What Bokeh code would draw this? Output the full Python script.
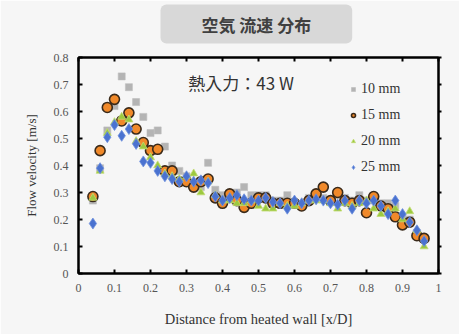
from bokeh.plotting import figure
from bokeh.models import (LinearAxis, FixedTicker, CustomJSTickFormatter, Label,
                          Legend, LegendItem, ColumnDataSource, Range1d,
                          CustomLabelingPolicy)
from bokeh.embed import file_html
from bokeh.resources import INLINE

# ---------------- data ----------------
x_pos = [0.04, 0.06, 0.08, 0.10, 0.12, 0.14, 0.16, 0.18, 0.20, 0.22, 0.24, 0.26,
         0.28, 0.30, 0.32, 0.34, 0.36, 0.38, 0.40, 0.42, 0.44, 0.46, 0.48, 0.50,
         0.52, 0.54, 0.56, 0.58, 0.60, 0.62, 0.64, 0.66, 0.68, 0.70, 0.72, 0.74,
         0.76, 0.78, 0.80, 0.82, 0.84, 0.86, 0.88, 0.90, 0.92, 0.94, 0.96]

v_10mm = [0.27, 0.39, 0.53, 0.62, 0.73, 0.69, 0.635, 0.58, 0.52, 0.53, 0.47, 0.40,
          0.38, 0.36, 0.33, 0.32, 0.41, 0.31, 0.29, 0.28, 0.30, 0.32, 0.29, 0.29,
          0.29, 0.27, 0.27, 0.29, 0.26, 0.25, 0.28, 0.29, 0.28, 0.27, 0.29, 0.28,
          0.27, 0.29, 0.27, 0.27, 0.26, 0.26, 0.25, 0.21, 0.20, 0.15, 0.13]

v_15mm = [0.285, 0.455, 0.615, 0.645, 0.565, 0.595, 0.535, 0.485, 0.455, 0.46, 0.38, 0.38,
          0.34, 0.34, 0.32, 0.34, 0.35, 0.28, 0.26, 0.295, 0.27, 0.245, 0.26, 0.28,
          0.28, 0.26, 0.26, 0.26, 0.26, 0.25, 0.27, 0.295, 0.32, 0.27, 0.30, 0.27,
          0.26, 0.27, 0.225, 0.285, 0.25, 0.24, 0.21, 0.18, 0.19, 0.14, 0.13]

v_20mm = [0.28, 0.38, 0.52, 0.56, 0.58, 0.57, 0.49, 0.47, 0.43, 0.40, 0.37, 0.36,
          0.35, 0.36, 0.37, 0.30, 0.34, 0.29, 0.27, 0.27, 0.26, 0.26, 0.27, 0.25,
          0.24, 0.24, 0.26, 0.25, 0.25, 0.26, 0.27, 0.27, 0.27, 0.26, 0.24, 0.26,
          0.25, 0.26, 0.27, 0.24, 0.22, 0.23, 0.24, 0.20, 0.23, 0.16, 0.10]

v_25mm = [0.185, 0.39, 0.505, 0.55, 0.51, 0.535, 0.48, 0.415, 0.41, 0.38, 0.36, 0.35,
          0.34, 0.36, 0.34, 0.345, 0.335, 0.285, 0.27, 0.28, 0.29, 0.275, 0.27, 0.27,
          0.28, 0.265, 0.26, 0.24, 0.27, 0.26, 0.27, 0.275, 0.27, 0.26, 0.255, 0.27,
          0.24, 0.27, 0.26, 0.27, 0.25, 0.22, 0.27, 0.22, 0.19, 0.16, 0.12]

series_names = ["10 mm", "15 mm", "20 mm", "25 mm"]
x_ticks = [0, 0.1, 0.2, 0.3, 0.4, 0.5, 0.6, 0.7, 0.8, 0.9, 1.0]
y_ticks = [0, 0.1, 0.2, 0.3, 0.4, 0.5, 0.6, 0.7, 0.8]

title_text = "空気 流速 分布"
note_text = "熱入力：43 W"
x_label = "Distance from heated wall [x/D]"
y_label = "Flow velocity [m/s]"

# ---------------- figure ----------------
BG = "#f6f6f6"
SERIF = "Liberation Serif"

p = figure(width=459, height=334, output_backend="svg", toolbar_location=None,
           x_range=Range1d(0, 1), y_range=Range1d(0, 0.8),
           min_border_left=78, min_border_right=15, min_border_top=57, min_border_bottom=61,
           background_fill_color=BG, border_fill_color=BG)
p.xaxis.visible = False
p.yaxis.visible = False
p.grid.visible = False
p.outline_line_color = "black"
p.outline_line_width = 2

fmt = CustomJSTickFormatter(code="""
    if (Math.abs(tick - Math.round(tick)) < 1e-9) return Math.round(tick).toString();
    return tick.toFixed(1);
""")
no_labels = CustomLabelingPolicy(code="return new Set()")

def style_axis(ax, show_labels):
    ax.axis_line_color = "black"
    ax.axis_line_width = 2
    ax.major_tick_line_color = "black"
    ax.major_tick_line_width = 2
    ax.major_tick_in = 4
    ax.major_tick_out = 0
    ax.minor_tick_line_color = None
    ax.formatter = fmt
    if show_labels:
        ax.major_label_text_font = SERIF
        ax.major_label_text_font_size = "12px"
        ax.major_label_text_color = "#555555"
        ax.axis_label_text_font = SERIF
        ax.axis_label_text_font_size = "13px"
        ax.axis_label_text_font_style = "normal"
        ax.axis_label_text_color = "#333333"
    else:
        ax.major_label_policy = no_labels
        ax.major_label_standoff = 0

xb = LinearAxis(ticker=FixedTicker(ticks=x_ticks), axis_label=x_label)
style_axis(xb, True)
xb.axis_label_text_font_size = "14.5px"
xb.major_label_standoff = 10
xb.axis_label_standoff = 16
p.add_layout(xb, "below")

yl = LinearAxis(ticker=FixedTicker(ticks=y_ticks), axis_label=y_label)
style_axis(yl, True)
yl.major_label_standoff = 10
yl.axis_label_standoff = 12
p.add_layout(yl, "left")

xt = LinearAxis(ticker=FixedTicker(ticks=x_ticks))
style_axis(xt, False)
p.add_layout(xt, "above")

yr = LinearAxis(ticker=FixedTicker(ticks=y_ticks))
style_axis(yr, False)
yr.major_tick_in = 0
yr.major_tick_out = 3
p.add_layout(yr, "right")

# title box
p.title.text = title_text
p.title.align = "left"
p.title.offset = 82
p.title.vertical_align = "top"
p.title.text_font = "Noto Sans CJK JP"
p.title.text_font_size = "17px"
p.title.text_font_style = "bold"
p.title.text_color = "#404040"
p.title.background_fill_color = "#d8d8d8"
p.title.border_radius = 6
p.title.padding = (41, 7)
p.title.standoff = 2

# ---------------- data glyphs ----------------
src = ColumnDataSource(dict(x=x_pos, a=v_10mm, b=v_15mm, c=v_20mm, d=v_25mm))

r10 = p.scatter("x", "a", source=src, marker="square", size=7,
                fill_color="#a8a8a8", line_color="#bdbdbd", fill_alpha=0.85, line_alpha=0.6)
r15 = p.scatter("x", "b", source=src, marker="circle", size=10,
                fill_color="#f0892a", line_color="#3a2a1a", line_width=1.6)
r20 = p.scatter("x", "c", source=src, marker="triangle", size=8,
                fill_color="#9cc93f", line_color="#c2dc72", line_width=0.8)
r25 = p.scatter("x", "d", source=src, marker="diamond", size=11,
                fill_color="#4a72d0", line_color="#6f90dd", line_width=0.8)

legend = Legend(items=[LegendItem(label=series_names[0], renderers=[r10]),
                       LegendItem(label=series_names[1], renderers=[r15]),
                       LegendItem(label=series_names[2], renderers=[r20]),
                       LegendItem(label=series_names[3], renderers=[r25])],
                location=(270, 96))
legend.background_fill_alpha = 0
legend.border_line_color = None
legend.label_text_font = SERIF
legend.label_text_font_size = "14px"
legend.label_text_color = "#333333"
legend.glyph_width = 10
legend.glyph_height = 20
legend.spacing = 6
legend.padding = 4
legend.label_standoff = 3
p.add_layout(legend, "center")

note = Label(x=0.305, y=0.707, text=note_text, text_font="Noto Sans CJK JP",
             text_font_size="17px", text_color="#333333", text_baseline="middle")
p.add_layout(note)

html = file_html(p, INLINE)
open("out.html", "w").write(html)
